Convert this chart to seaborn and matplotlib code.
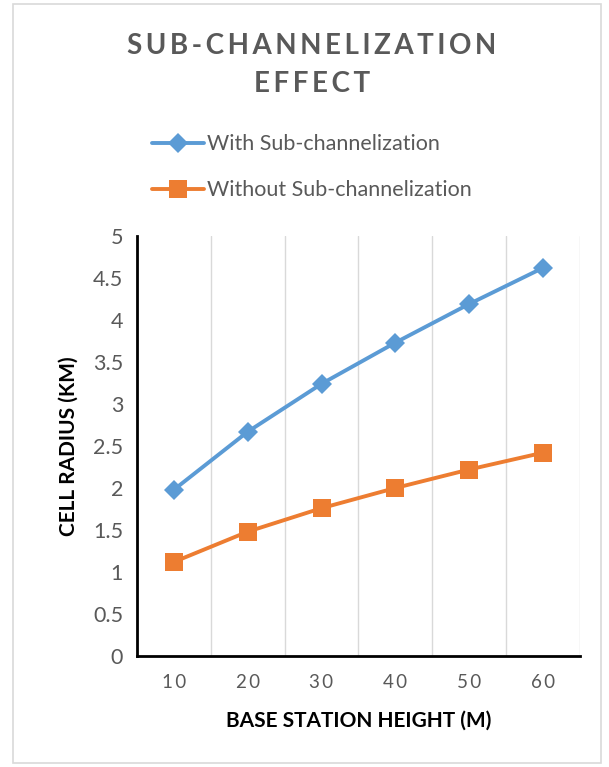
import matplotlib
matplotlib.use("Agg")
import matplotlib.pyplot as plt
import seaborn as sns
import pandas as pd
from matplotlib.patches import Rectangle

heights = [10, 20, 30, 40, 50, 60]
with_sub = [1.98, 2.67, 3.24, 3.73, 4.19, 4.62]
without_sub = [1.12, 1.48, 1.76, 2.00, 2.22, 2.42]
series_names = ["With Sub-channelization", "Without Sub-channelization"]
y_ticks = [0, 0.5, 1, 1.5, 2, 2.5, 3, 3.5, 4, 4.5, 5]

sns.set_theme(style="white")
FONT = ["Lato", "DejaVu Sans"]
plt.rcParams["font.family"] = FONT

df = pd.DataFrame({
    "height": heights * 2,
    "radius": with_sub + without_sub,
    "series": [series_names[0]] * len(heights) + [series_names[1]] * len(heights),
})

fig = plt.figure(figsize=(6.09, 7.67), dpi=100)
ax = fig.add_axes([0.225, 0.1447, 0.727, 0.5476])

blue = "#5B9BD5"
orange = "#ED7D31"
sns.lineplot(data=df[df.series == series_names[0]], x="height", y="radius",
             color=blue, marker="D", markersize=10.5, markeredgewidth=0,
             linewidth=2.8, ax=ax, label=series_names[0])
sns.lineplot(data=df[df.series == series_names[1]], x="height", y="radius",
             color=orange, marker="s", markersize=13, markeredgewidth=0,
             linewidth=2.8, ax=ax, label=series_names[1])

ax.set_xlim(5, 65)
ax.set_ylim(0, 5)
ax.set_yticks(y_ticks)
ax.set_yticklabels([f"{v:g}" for v in y_ticks])
ax.set_xticks(heights)
ax.set_xticklabels(["\u2009".join(str(h)) for h in heights])
for gx in [15, 25, 35, 45, 55, 65]:
    ax.axvline(gx, color="#D9D9D9", linewidth=1, zorder=0)

for s in ["top", "right"]:
    ax.spines[s].set_visible(False)
for s in ["left", "bottom"]:
    ax.spines[s].set_color("black")
    ax.spines[s].set_linewidth(2)

ax.tick_params(axis="y", labelsize=15.5, labelcolor="#595959", length=0, pad=10)
ax.tick_params(axis="x", labelsize=13.5, labelcolor="#595959", length=0, pad=13)

ax.set_xlabel("BASE STATION HEIGHT (M)", fontsize=15, fontweight="bold",
              color="black", labelpad=14)
ax.set_ylabel("CELL RADIUS (KM)", fontsize=15, fontweight="bold",
              color="black", labelpad=10)

ax.get_legend().remove()
handles, labels = ax.get_legend_handles_labels()
fig.legend(handles, labels, loc="upper left", bbox_to_anchor=(0.218, 0.850),
           frameon=False, fontsize=15.5, labelcolor="#595959",
           handlelength=2.4, handletextpad=0.15, labelspacing=1.2)

title_lines = ["SUB-CHANNELIZATION", "EFFECT"]
fig.text(0.512, 0.940, "\u2009".join(title_lines[0]), ha="center", va="center",
         fontsize=20, fontweight="bold", color="#595959")
fig.text(0.512, 0.891, "\u2009".join(title_lines[1]), ha="center", va="center",
         fontsize=20, fontweight="bold", color="#595959")

fig.patches.append(Rectangle((0.022, 0.005), 0.965, 0.99, transform=fig.transFigure,
                             fill=False, edgecolor="#D9D9D9", linewidth=1.2))

fig.savefig("out.png", dpi=100, facecolor="white")
